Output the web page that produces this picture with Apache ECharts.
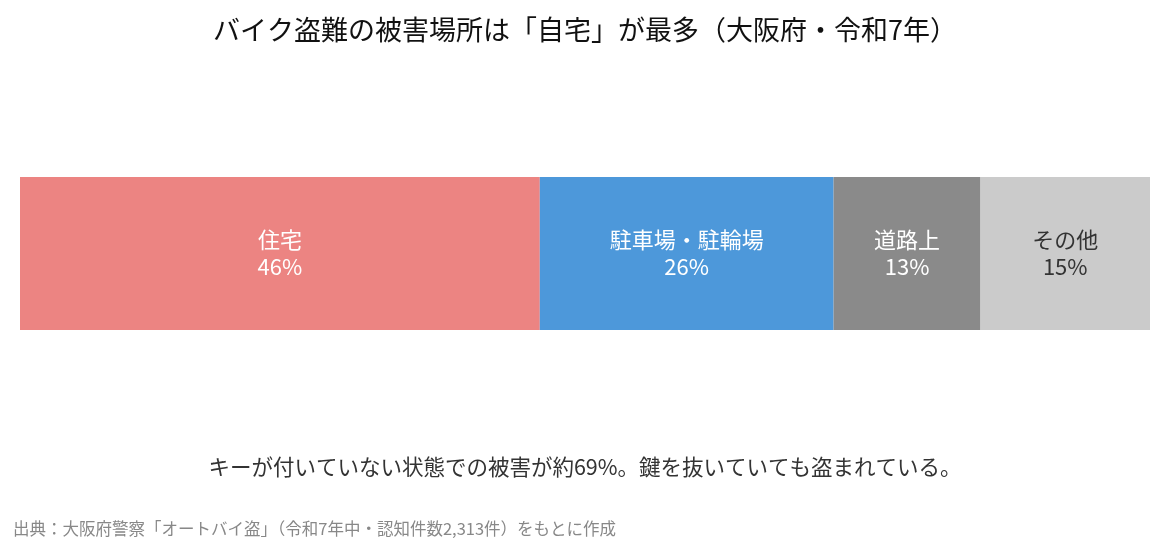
<!DOCTYPE html>
<html><head><meta charset="utf-8">
<script src="https://cdn.jsdelivr.net/npm/echarts@6/dist/echarts.min.js"></script>
<style>html,body{margin:0;padding:0;background:#fff}#c{width:1170px;height:546px}</style>
</head><body><div id="c"></div>
<script>
const categories = ['住宅', '駐車場・駐輪場', '道路上', 'その他'];
const values = [46, 26, 13, 15];
const colors = ['#EC8482', '#4D98DA', '#8A8A8A', '#CBCBCB'];
const labelColors = ['#ffffff', '#ffffff', '#ffffff', '#333333'];
const titleText = 'バイク盗難の被害場所は「自宅」が最多（大阪府・令和7年）';
const noteText = 'キーが付いていない状態での被害が約69%。鍵を抜いていても盗まれている。';
const sourceText = '出典：大阪府警察「オートバイ盗」（令和7年中・認知件数2,313件）をもとに作成';
const FONT = '"Noto Sans CJK JP", "Noto Sans", sans-serif';

const chart = echarts.init(document.getElementById('c'));
chart.setOption({
  animation: false,
  textStyle: { fontFamily: FONT },
  title: [
    { text: titleText, left: 'center', top: 11, textStyle: { fontSize: 27, fontWeight: 'normal', color: '#111', fontFamily: FONT } },
    { text: noteText, left: 'center', top: 451, textStyle: { fontSize: 21.5, fontWeight: 'normal', color: '#333', fontFamily: FONT } },
    { text: sourceText, left: 8, top: 515, textStyle: { fontSize: 16.5, fontWeight: 'normal', color: '#888', fontFamily: FONT } }
  ],
  grid: { left: 20, right: 20, top: 177, height: 153, containLabel: false },
  xAxis: { type: 'value', min: 0, max: 100, show: false },
  yAxis: { type: 'category', data: [''], show: false },
  series: categories.map((name, i) => ({
    name, type: 'bar', stack: 'total',
    data: [values[i]],
    barWidth: 153,
    itemStyle: { color: colors[i] },
    label: {
      show: true, position: 'inside',
      formatter: name + '\n' + values[i] + '%',
      color: labelColors[i], fontSize: 22, lineHeight: 27, fontFamily: FONT
    }
  }))
});
</script></body></html>
